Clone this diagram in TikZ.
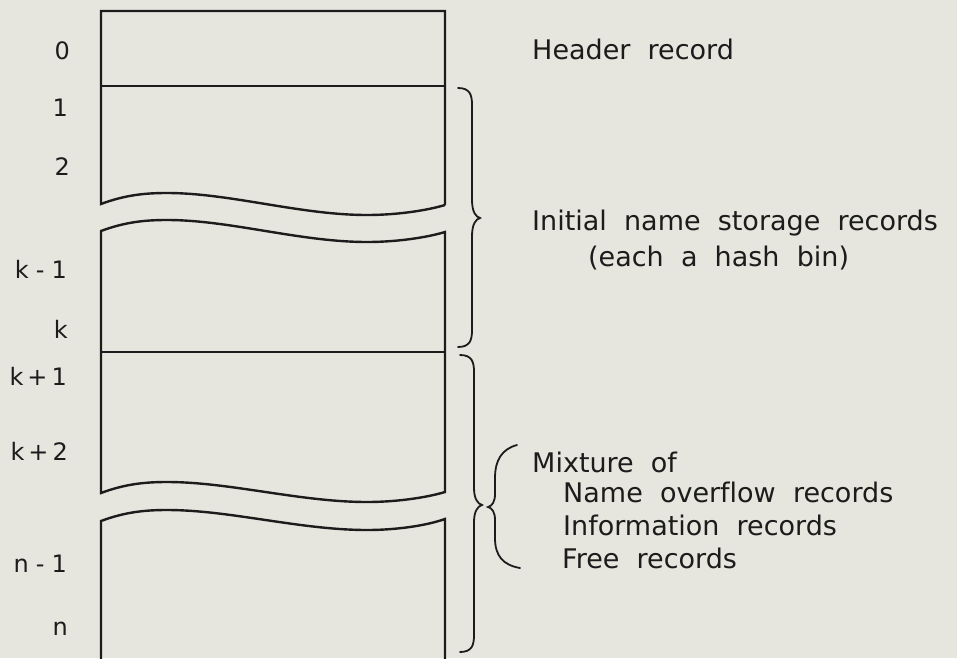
\documentclass[tikz,border=0pt]{standalone}
\usepackage{fontspec}
\setmainfont{DejaVu Sans}[WordSpace=2,Ligatures=NoCommon]
\newfontfamily\lblfont{DejaVu Sans}
\definecolor{paper}{RGB}{230,230,222}
\definecolor{ink}{RGB}{28,28,28}
\begin{document}
\begin{tikzpicture}[x=1pt,y=-1pt,
  wall/.style={draw=ink,line width=2.4pt,line join=miter},
  brc/.style={draw=ink,line width=1.8pt,line cap=round},
  txt/.style={anchor=base west,inner sep=0pt,text=ink,font=\fontsize{27}{32}\selectfont},
  lbl/.style={anchor=base east,inner sep=0pt,text=ink,font=\lblfont\fontsize{24}{28}\selectfont}]
\fill[paper] (0,0) rectangle (957,658);
\useasboundingbox (0,0) rectangle (957,658);
% upper block
\draw[wall] (445,205) -- (445,11) -- (101,11) -- (101,204)
  .. controls (125,195) and (145,193) .. (167,193)
  .. controls (230,193) and (300,215) .. (367,215)
  .. controls (395,215) and (425,211) .. (445,205);
\draw[wall] (101,86) -- (445,86);
% middle block
\draw[wall] (101,231)
  .. controls (125,222) and (145,220) .. (167,220)
  .. controls (230,220) and (300,242) .. (367,242)
  .. controls (395,242) and (425,238) .. (445,232)
  -- (445,492)
  .. controls (425,498) and (395,502) .. (367,502)
  .. controls (300,502) and (230,482) .. (167,482)
  .. controls (145,482) and (125,484) .. (101,493) -- cycle;
\draw[wall] (101,352) -- (445,352);
% lower block
\draw[wall] (101,660) -- (101,521)
  .. controls (125,512) and (145,510) .. (167,510)
  .. controls (230,510) and (300,530) .. (367,530)
  .. controls (395,530) and (425,526) .. (445,519) -- (445,660);
% braces
\draw[brc] (458,88) .. controls (470,88) and (472,95) .. (472,105) -- (472,200)
  .. controls (472,212) and (476,217) .. (480,218)
  .. controls (476,219) and (472,224) .. (472,236) -- (472,330)
  .. controls (472,340) and (470,347) .. (458,347);
\draw[brc] (460,355) .. controls (472,355) and (474,362) .. (474,372) -- (474,488)
  .. controls (474,499) and (478,504) .. (482,505)
  .. controls (478,506) and (474,511) .. (474,522) -- (474,635)
  .. controls (474,645) and (472,652) .. (460,652);
\draw[brc] (517,445) .. controls (502,449) and (495,460) .. (495,478) -- (495,494)
  .. controls (495,502) and (492,506) .. (488,507)
  .. controls (492,508) and (495,512) .. (495,520) -- (495,538)
  .. controls (495,556) and (503,565) .. (520,568);
% right texts
\node[txt] (hdr) at (532,60) {Header record};
\node[txt] (ini) at (532,230) {Initial name storage records};
\node[txt] (bin) at (588,266) {(each a hash bin)};
\node[txt] (mix) at (532,472) {Mixture of};
\node[txt] (nov) at (563,502) {Name overflow records};
\node[txt] (inf) at (563,535) {Information records};
\node[txt] (fre) at (562,568) {Free records};
% left labels
\node[lbl] (l0) at (70,60) {0};
\node[lbl] (l1) at (68,117) {1};
\node[lbl] (l2) at (70,175) {2};
\node[lbl] (lkm) at (67,278) {k\kern7pt-\kern7pt1};
\node[lbl] (lk) at (68,338) {k};
\node[lbl] (lkp1) at (67,385) {k\kern4pt+\kern4pt1};
\node[lbl] (lkp2) at (68,460) {k\kern4pt+\kern4pt2};
\node[lbl] (lnm) at (67,572) {n\kern7pt-\kern7pt1};
\node[lbl] (ln) at (68,635) {n};
\end{tikzpicture}
\end{document}
